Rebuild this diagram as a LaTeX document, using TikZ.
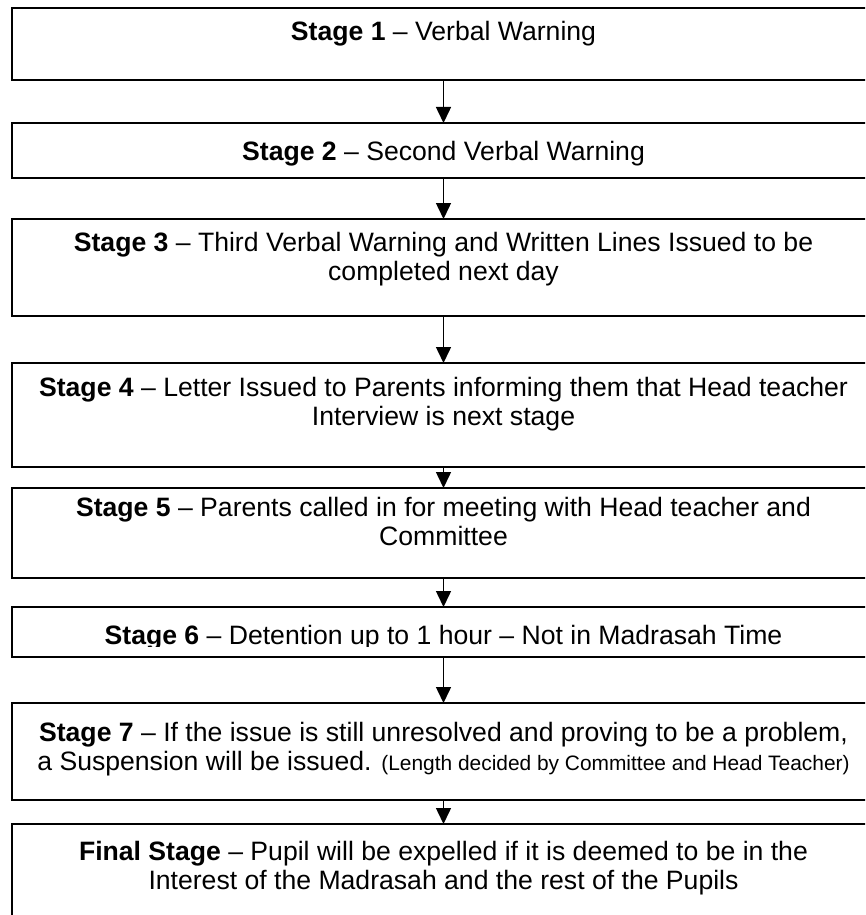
\documentclass[tikz,border=0pt]{standalone}
\usepackage{fontspec}
\setmainfont{Liberation Sans}
\usetikzlibrary{arrows.meta}
\tikzset{
  stagebox/.style={draw=black, line width=2pt, fill=white, rectangle, inner sep=0pt, outer sep=0pt, minimum width=863pt},
  txt/.style={inner sep=0pt, outer sep=0pt, anchor=base, font=\fontsize{26.6pt}{28.75pt}\selectfont},
  flow/.style={line width=1.5pt, -{Triangle[length=16pt,width=15pt]}}
}
\newcommand{\smalltxt}{\fontsize{20.9pt}{24pt}\selectfont}
\begin{document}
\begin{tikzpicture}[x=1pt,y=-1pt]
\useasboundingbox (0,0) rectangle (865,915);
\begin{scope}
\clip (0,0) rectangle (865,915);
% boxes
\node[stagebox, minimum height=72pt] (b1) at (443.5,44) {};
\node[stagebox, minimum height=55pt] (b2) at (443.5,150.5) {};
\node[stagebox, minimum height=97pt] (b3) at (443.5,267.5) {};
\node[stagebox, minimum height=104pt] (b4) at (443.5,415) {};
\node[stagebox, minimum height=90pt] (b5) at (443.5,533) {};
\node[stagebox, minimum height=50pt] (b6) at (443.5,632) {};
\node[stagebox, minimum height=97pt] (b7) at (443.5,751.5) {};
\node[stagebox, minimum height=116pt] (b8) at (443.5,882) {};
% texts
\node[txt] (t1) at (443.5,41) {\textbf{Stage 1} – Verbal Warning};
\node[txt] (t2) at (443.5,160) {\textbf{Stage 2} – Second Verbal Warning};
\node[txt] (t3a) at (443.5,251) {\textbf{Stage 3} – Third Verbal Warning and Written Lines Issued to be};
\node[txt] (t3b) at (443.5,280) {completed next day};
\node[txt] (t4a) at (443.5,396) {\textbf{Stage 4} – Letter Issued to Parents informing them that Head teacher};
\node[txt] (t4b) at (443.5,425) {Interview is next stage};
\node[txt] (t5a) at (443.5,516) {\textbf{Stage 5} – Parents called in for meeting with Head teacher and};
\node[txt] (t5b) at (443.5,545) {Committee};
\begin{scope}
\clip (13,608) rectangle (874,646);
\node[txt] (t6) at (443.5,644) {\textbf{Stage 6} – Detention up to 1 hour – Not in Madrasah Time};
\end{scope}
\node[txt] (t7a) at (443.5,741) {\textbf{Stage 7} – If the issue is still unresolved and proving to be a problem,};
\node[txt] (t7b) at (443.5,770) {a Suspension will be issued. {\smalltxt(Length decided by Committee and Head Teacher)}};
\node[txt] (t8a) at (443.5,860) {\textbf{Final Stage} – Pupil will be expelled if it is deemed to be in the};
\node[txt] (t8b) at (443.5,889) {Interest of the Madrasah and the rest of the Pupils};
% arrows
\draw[flow] (b1.south) -- (b2.north);
\draw[flow] (b2.south) -- (b3.north);
\draw[flow] (b3.south) -- (b4.north);
\draw[flow] (b4.south) -- (b5.north);
\draw[flow] (b5.south) -- (b6.north);
\draw[flow] (b6.south) -- (b7.north);
\draw[flow] (b7.south) -- (b8.north);
\end{scope}
\end{tikzpicture}
\end{document}
